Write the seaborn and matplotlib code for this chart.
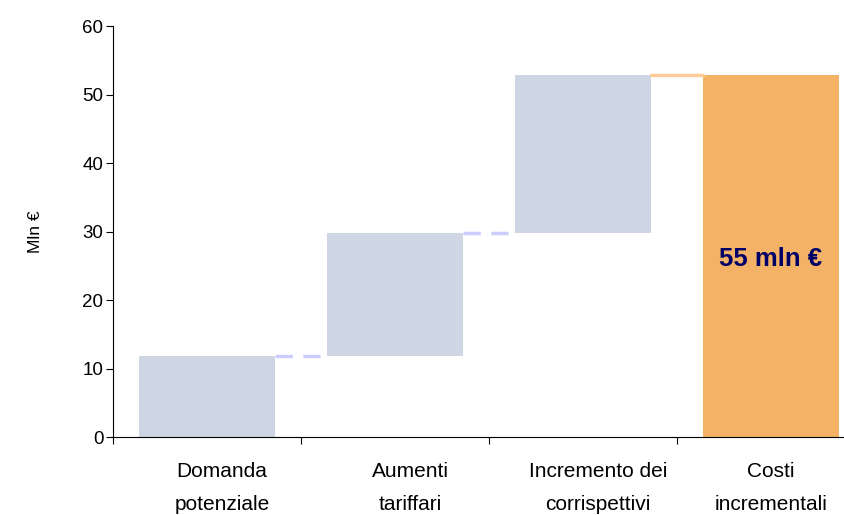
import matplotlib
matplotlib.use("Agg")
import matplotlib.pyplot as plt
import seaborn as sns
import pandas as pd

categories = ["Domanda\npotenziale", "Aumenti\ntariffari", "Incremento dei\ncorrispettivi", "Costi\nincrementali"]
steps = [11.8, 18.0, 23.0]
total = 52.8
total_label = "55 mln €"

bottoms = [0.0, steps[0], steps[0] + steps[1], 0.0]
heights = steps + [total]
df = pd.DataFrame({"cat": categories, "height": heights})

sns.set_theme(style="white")
plt.rcParams["font.family"] = ["Liberation Sans", "DejaVu Sans"]
plt.rcParams["text.color"] = "black"
plt.rcParams["axes.labelcolor"] = "black"
plt.rcParams["ytick.color"] = "black"

fig = plt.figure(figsize=(8.44, 5.15), dpi=100)
ax = fig.add_axes([113 / 844, 1 - 437 / 515, (865 - 113) / 844, (437 - 26) / 515])

sns.barplot(data=df, x="cat", y="height", bottom=bottoms, color="#CDD6E2",
            saturation=1, width=0.72, ax=ax, edgecolor="none")
ax.patches[-1].set_facecolor("#F4B266")

# connector lines between bars
hw = 0.36
ends = [bottoms[i] + heights[i] for i in range(3)]
ax.plot([0 + hw, 1 - hw], [ends[0], ends[0]], color="#CCCCFF", lw=2.5, ls=(0, (5, 3)))
ax.plot([1 + hw, 2 - hw], [ends[1], ends[1]], color="#CCCCFF", lw=2.5, ls=(0, (5, 3)))
ax.plot([2 + hw, 3 - hw], [ends[2], ends[2]], color="#FFCC99", lw=2.5)

ax.text(3, 26.0, total_label, ha="center", va="center", fontsize=18.5,
        fontweight="bold", color="#000066")

ax.set_xlim(-0.495, 3.5)
ax.set_ylim(0, 60)
ax.set_yticks(range(0, 61, 10))
ax.set_xticks([-0.5, 0.5, 1.5, 2.5, 3.5], [""] * 5)
ax.set_xlabel("")
ax.set_ylabel("Mln €", fontsize=12.5, labelpad=28)
ax.tick_params(axis="y", labelsize=13.5, length=5, width=0.8, color="black", left=True, pad=2)
ax.tick_params(axis="x", length=5, width=0.8, color="black", bottom=True)

for i, lab in enumerate(categories):
    ax.text(i + 0.08 if i < 3 else i, -3.6, lab, ha="center", va="top", fontsize=15,
            linespacing=1.95)

for s in ["top", "right"]:
    ax.spines[s].set_visible(False)
for s in ["left", "bottom"]:
    ax.spines[s].set_color("black")
    ax.spines[s].set_linewidth(0.8)

fig.savefig("out.png", dpi=100)
